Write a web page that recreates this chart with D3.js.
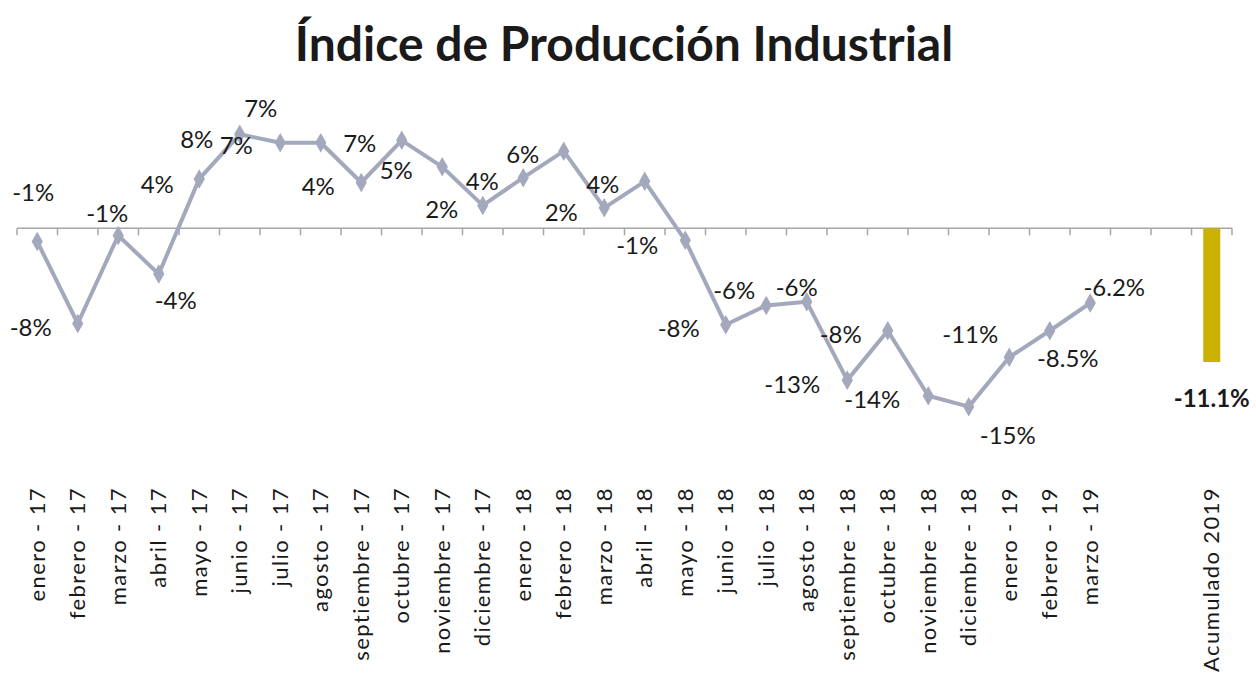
<!DOCTYPE html>
<html>
<head>
<meta charset="utf-8">
<script src="https://cdn.jsdelivr.net/npm/d3@7"></script>
<style>
  body { margin: 0; background: #fff; }
  text { font-family: Lato, "Open Sans", sans-serif; fill: #1a1a1a; }
</style>
</head>
<body>
<svg id="chart"></svg>
<script>
const months = [
  "enero - 17", "febrero - 17", "marzo - 17", "abril - 17", "mayo - 17", "junio - 17",
  "julio - 17", "agosto - 17", "septiembre - 17", "octubre - 17", "noviembre - 17", "diciembre - 17",
  "enero - 18", "febrero - 18", "marzo - 18", "abril - 18", "mayo - 18", "junio - 18",
  "julio - 18", "agosto - 18", "septiembre - 18", "octubre - 18", "noviembre - 18", "diciembre - 18",
  "enero - 19", "febrero - 19", "marzo - 19"
];
const gaps = ["_g1", "_g2"];
const accLabel = "Acumulado 2019";

const values = [
  -1.1, -7.9, -0.6, -3.8, 4.1, 7.8, 7.1, 7.1, 3.8, 7.3, 5.1, 1.9,
  4.2, 6.4, 1.7, 3.9, -1.0, -8.0, -6.4, -6.1, -12.6, -8.5, -13.9, -14.8,
  -10.7, -8.5, -6.2
];
const labels = [
  "-1%", "-8%", "-1%", "-4%", "4%", "8%", "7%", "7%", "4%", "7%", "5%", "2%",
  "4%", "6%", "2%", "4%", "-1%", "-8%", "-6%", "-6%", "-13%", "-8%", "-14%", "-15%",
  "-11%", "-8.5%", "-6.2%"
];
const accValue = -11.1;
const accText = "-11.1%";

// where each data label sits relative to its point (Excel put them by hand)
const labelOffsets = [
  [-4, -50], [-47, 3], [-11, -23], [17, 25], [-42, 5], [-43, 4], [-44, 2], [-60, -35],
  [-43, 3], [-42, 2], [-46, 3], [-41, 3], [-41, 3], [-41, 2], [-43, 4], [-42, 2],
  [-48, 4], [-47, 3], [-32, -16], [-10, -15], [-55, 3], [-47, 3], [-56, 3], [39, 28],
  [-39, -24], [18, 27], [24, -17]
];

const W = 1256, H = 685;
const svg = d3.select("#chart").attr("width", W).attr("height", H);

const x = d3.scaleBand()
  .domain([...months, ...gaps, accLabel])
  .range([17, 1232])
  .padding(0);
const y = d3.scaleLinear().domain([-16, 10]).range([421.1, 107.8]);
const cx = d => x(d) + x.bandwidth() / 2;

svg.append("text")
  .attr("x", 624).attr("y", 61)
  .attr("text-anchor", "middle")
  .style("font-size", "48px").style("font-weight", "bold")
  .text("Índice de Producción Industrial");

// zero axis line with boundary ticks
const axisG = svg.append("g");
axisG.append("line")
  .attr("x1", x.range()[0]).attr("x2", x.range()[1])
  .attr("y1", y(0)).attr("y2", y(0))
  .attr("stroke", "#a6a6a6").attr("stroke-width", 1.5);
const bounds = [...x.domain().map(d => x(d)), x.range()[1]];
axisG.selectAll(".tk").data(bounds).enter().append("line")
  .attr("x1", d => d).attr("x2", d => d)
  .attr("y1", y(0)).attr("y2", y(0) + 7)
  .attr("stroke", "#a6a6a6").attr("stroke-width", 1.5);

// bar for accumulated
svg.append("rect")
  .attr("x", cx(accLabel) - 8.5).attr("width", 17)
  .attr("y", y(0)).attr("height", y(accValue) - y(0))
  .attr("fill", "#cbb200");
svg.append("text")
  .attr("x", cx(accLabel)).attr("y", y(accValue) + 35)
  .attr("text-anchor", "middle").attr("dominant-baseline", "central")
  .style("font-size", "24px").style("font-weight", "bold")
  .text(accText);

// line series
const pts = months.map((m, i) => ({ m, v: values[i], t: labels[i], o: labelOffsets[i] }));
svg.append("path")
  .datum(pts)
  .attr("fill", "none")
  .attr("stroke", "#a4a8bc")
  .attr("stroke-width", 4)
  .attr("stroke-linejoin", "round")
  .attr("d", d3.line().x(d => cx(d.m)).y(d => y(d.v)));

svg.selectAll(".mk").data(pts).enter().append("path")
  .attr("d", d3.symbol(d3.symbolDiamond, 110))
  .attr("transform", d => `translate(${cx(d.m)},${y(d.v)})`)
  .attr("fill", "#a4a8bc");

svg.selectAll(".lbl").data(pts).enter().append("text")
  .attr("x", d => cx(d.m) + d.o[0])
  .attr("y", d => y(d.v) + d.o[1])
  .attr("text-anchor", "middle").attr("dominant-baseline", "central")
  .style("font-size", "24px")
  .text(d => d.t);

// category labels
const catAxis = svg.append("g")
  .attr("transform", "translate(0,487)")
  .call(d3.axisBottom(x).tickSize(0).tickPadding(0)
    .tickFormat(d => gaps.includes(d) ? "" : d));
catAxis.select(".domain").remove();
catAxis.selectAll("text")
  .attr("x", 0).attr("y", 0).attr("dy", "0.35em")
  .attr("transform", "rotate(-90)")
  .style("text-anchor", "end")
  .style("font-family", "Lato, sans-serif")
  .style("font-size", "22px")
  .style("letter-spacing", "1.4px")
  .style("fill", "#1a1a1a");
</script>
</body>
</html>
